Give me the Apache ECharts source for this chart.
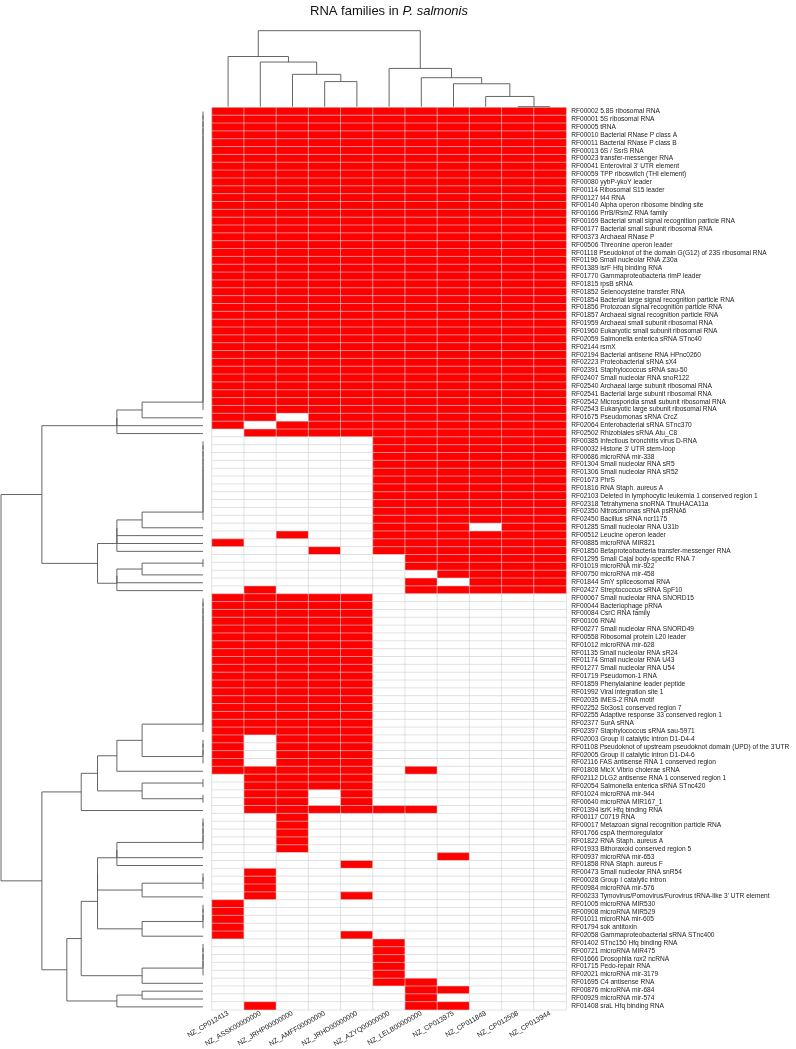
<!DOCTYPE html>
<html><head><meta charset="utf-8">
<script src="https://cdn.jsdelivr.net/npm/echarts@6/dist/echarts.min.js"></script>
<style>html,body{margin:0;padding:0;background:#fff}#c{width:796px;height:1049px}</style>
</head><body><div id="c"></div>
<script>
// ---- data ----
const columns = ['NZ_CP012413','NZ_ASSK00000000','NZ_JRHP00000000','NZ_AMFF00000000','NZ_JRHD00000000',
  'NZ_AZYQ00000000','NZ_LELB00000000','NZ_CP013975','NZ_CP011849','NZ_CP012508','NZ_CP013944'];

const rowLabels = [
'RF00002 5.8S ribosomal RNA','RF00001 5S ribosomal RNA','RF00005 tRNA','RF00010 Bacterial RNase P class A',
'RF00011 Bacterial RNase P class B','RF00013 6S / SsrS RNA','RF00023 transfer-messenger RNA','RF00041 Enteroviral 3\' UTR element',
'RF00059 TPP riboswitch (THI element)','RF00080 yybP-ykoY leader','RF00114 Ribosomal S15 leader','RF00127 t44 RNA',
'RF00140 Alpha operon ribosome binding site','RF00166 PrrB/RsmZ RNA family','RF00169 Bacterial small signal recognition particle RNA',
'RF00177 Bacterial small subunit ribosomal RNA','RF00373 Archaeal RNase P','RF00506 Threonine operon leader',
'RF01118 Pseudoknot of the domain G(G12) of 23S ribosomal RNA','RF01196 Small nucleolar RNA Z30a','RF01389 isrF Hfq binding RNA',
'RF01770 Gammaproteobacteria rimP leader','RF01815 rpsB sRNA','RF01852 Selenocysteine transfer RNA',
'RF01854 Bacterial large signal recognition particle RNA','RF01856 Protozoan signal recognition particle RNA',
'RF01857 Archaeal signal recognition particle RNA','RF01959 Archaeal small subunit ribosomal RNA',
'RF01960 Eukaryotic small subunit ribosomal RNA','RF02059 Salmonella enterica sRNA STnc40','RF02144 rsmX',
'RF02194 Bacterial antisene RNA HPnc0260','RF02223 Proteobacterial sRNA sX4','RF02391 Staphylococcus sRNA sau-50',
'RF02407 Small nucleolar RNA snoR122','RF02540 Archaeal large subunit ribosomal RNA','RF02541 Bacterial large subunit ribosomal RNA',
'RF02542 Microsporidia small subunit ribosomal RNA','RF02543 Eukaryotic large subunit ribosomal RNA',
'RF01675 Pseudomonas sRNA CrcZ','RF02064 Enterobacterial sRNA STnc370','RF02502 Rhizobiales sRNA Atu_C8',
'RF00385 Infectious bronchitis virus D-RNA','RF00032 Histone 3\' UTR stem-loop','RF00686 microRNA mir-338',
'RF01304 Small nucleolar RNA sR5','RF01306 Small nucleolar RNA sR52','RF01673 PhrS','RF01816 RNA Staph. aureus A',
'RF02103 Deleted in lymphocytic leukemia 1 conserved region 1','RF02318 Tetrahymena snoRNA TtnuHACA11a',
'RF02350 Nitrosomonas sRNA psRNA6','RF02450 Bacillus sRNA ncr1175','RF01285 Small nucleolar RNA U31b',
'RF00512 Leucine operon leader','RF00885 microRNA MIR821','RF01850 Betaproteobacteria transfer-messenger RNA',
'RF01295 Small Cajal body-specific RNA 7','RF01019 microRNA mir-922','RF00750 microRNA mir-458',
'RF01844 SmY spliceosomal RNA','RF02427 Streptococcus sRNA SpF10','RF00067 Small nucleolar RNA SNORD15',
'RF00044 Bacteriophage pRNA','RF00084 CsrC RNA family','RF00106 RNAI','RF00277 Small nucleolar RNA SNORD49',
'RF00558 Ribosomal protein L20 leader','RF01012 microRNA mir-628','RF01135 Small nucleolar RNA sR24',
'RF01174 Small nucleolar RNA U43','RF01277 Small nucleolar RNA U54','RF01719 Pseudomon-1 RNA',
'RF01859 Phenylalanine leader peptide','RF01992 Viral integration site 1','RF02035 IMES-2 RNA motif',
'RF02252 Six3os1 conserved region 7','RF02255 Adaptive response 33 conserved region 1','RF02377 SurA sRNA',
'RF02397 Staphylococcus sRNA sau-5971','RF02003 Group II catalytic intron D1-D4-4',
'RF01108 Pseudoknot of upstream pseudoknot domain (UPD) of the 3\'UTR','RF02005 Group II catalytic intron D1-D4-6',
'RF02116 FAS antisense RNA 1 conserved region','RF01808 MicX Vibrio cholerae sRNA',
'RF02112 DLG2 antisense RNA 1 conserved region 1','RF02054 Salmonella enterica sRNA STnc420',
'RF01024 microRNA mir-944','RF00640 microRNA MIR167_1','RF01394 isrK Hfq binding RNA','RF00117 C0719 RNA',
'RF00017 Metazoan signal recognition particle RNA','RF01766 cspA thermoregulator','RF01822 RNA Staph. aureus A',
'RF01933 Bithoraxoid conserved region 5','RF00937 microRNA mir-653','RF01858 RNA Staph. aureus F',
'RF00473 Small nucleolar RNA snR54','RF00028 Group I catalytic intron','RF00984 microRNA mir-576',
'RF00233 Tymovirus/Pomovirus/Furovirus tRNA-like 3\' UTR element','RF01005 microRNA MIR530','RF00908 microRNA MIR529',
'RF01011 microRNA mir-605','RF01794 sok antitoxin','RF02058 Gammaproteobacterial sRNA STnc400',
'RF01402 STnc150 Hfq binding RNA','RF00721 microRNA MIR475','RF01666 Drosophila rox2 ncRNA','RF01715 Pedo-repair RNA',
'RF02021 microRNA mir-3179','RF01695 C4 antisense RNA','RF00876 microRNA mir-684','RF00929 microRNA mir-574',
'RF01408 sraL Hfq binding RNA'];

// presence (1) / absence (0) per row, columns in the order above
const presence = [
'11111111111','11111111111','11111111111','11111111111','11111111111','11111111111','11111111111','11111111111',
'11111111111','11111111111','11111111111','11111111111','11111111111','11111111111','11111111111','11111111111',
'11111111111','11111111111','11111111111','11111111111','11111111111','11111111111','11111111111','11111111111',
'11111111111','11111111111','11111111111','11111111111','11111111111','11111111111','11111111111','11111111111',
'11111111111','11111111111','11111111111','11111111111','11111111111','11111111111','11111111111',
'11011111111','10111111111','01111111111',
'00000111111','00000111111','00000111111','00000111111','00000111111','00000111111','00000111111','00000111111',
'00000111111','00000111111','00000111111',
'00000111011','00100111111','10000111111','00010111111',
'00000011111','00000011111','00000001111','00000010111','01000011111',
'11111000000','11111000000','11111000000','11111000000','11111000000','11111000000','11111000000','11111000000',
'11111000000','11111000000','11111000000','11111000000','11111000000','11111000000','11111000000','11111000000',
'11111000000','11111000000',
'10111000000','10111000000','10111000000','10111000000',
'11111010000','01111000000','01111000000','01101000000','01101000000','01111110000',
'00100000000','00100000000','00100000000','00100000000','00100000000',
'00000001000','00001000000','01000000000','01000000000','01000000000','01001000000',
'10000000000','10000000000','10000000000','10000000000','10001000000',
'00000100000','00000100000','00000100000','00000100000','00000100000',
'00000110000','00000011000','00000010000','01000011000'];

// dendrograms: [height, child, child, ...] ; leaves are 1-based positions
const seq = (a, b) => Array.from({length: b - a + 1}, (_, i) => a + i);
const colTree = [7.42,
  [4.90, 1, [4.36, 2, [3.16, 3, [2.45, 4, 5]]]],
  [3.74, 6, [2.83, 7, [2.24, 8, [1.00, 9, [0, 10, 11]]]]]];
const rowTree = [3.317,
  [2.646,
    [1.414, [1, [0, ...seq(1, 39)], 40], 41, 42],
    [1.732,
      [1.414, [1, [0, ...seq(43, 53)], 54], 55, 56, 57],
      [1.414, [1, [0, 58, 59], 60], 61, 62]]],
  [2.646,
    [2, [1.732,
          [1.414, [1, [0, ...seq(63, 80)], [0, ...seq(81, 84)]], 85],
          [1, [0, 86, 87], [0, 88, 89]]],
        90],
    [2.236,
      [2,
        [1.732,
          [1.414, [0, ...seq(91, 95)], 96, 97],
          [1, [0, 98, 99, 100], 101],
          [1, [0, ...seq(102, 105)], 106]],
        [1, [0, ...seq(107, 111)], 112]],
      [1.414, [1, 113, 114], 115]]]];

// ---- layout helpers ----
function treeSegments(node, segs) {
  if (typeof node === 'number') return {pos: node, h: 0};
  const h = node[0];
  let cur = treeSegments(node[1], segs);
  for (let i = 2; i < node.length; i++) {
    const nxt = treeSegments(node[i], segs);
    segs.push([cur.h, cur.pos, h, cur.pos]);
    segs.push([h, cur.pos, h, nxt.pos]);
    segs.push([h, nxt.pos, nxt.h, nxt.pos]);
    cur = {pos: (cur.pos + nxt.pos) / 2, h: h};
  }
  return cur;
}
const rowSegs = []; treeSegments(rowTree, rowSegs);
const colSegs = []; treeSegments(colTree, colSegs);

const heatData = [];
presence.forEach((bits, r) => {
  for (let c = 0; c < columns.length; c++) heatData.push([c, r, +bits[c]]);
});

const LINE = '#555555';
function segRenderer(swap) {
  return function (params, api) {
    const h1 = api.value(0), p1 = api.value(1), h2 = api.value(2), p2 = api.value(3);
    const a = api.coord(swap ? [p1, h1] : [h1, p1]);
    const b = api.coord(swap ? [p2, h2] : [h2, p2]);
    return {type: 'line', shape: {x1: a[0], y1: a[1], x2: b[0], y2: b[1]},
      style: {stroke: LINE, lineWidth: 0.9}};
  };
}

const HM = {left: 212, top: 107.6, width: 354.2, height: 903.2};
const FONT = 'Liberation Sans, Arial, sans-serif';

const chart = echarts.init(document.getElementById('c'), null, {renderer: 'canvas'});
chart.setOption({
  animation: false,
  backgroundColor: '#ffffff',
  title: {
    text: '{a|RNA families in }{b|P. salmonis}',
    left: 305, top: 0,
    textStyle: {fontWeight: 'normal', rich: {
      a: {fontSize: 13, fontFamily: FONT, color: '#111', fontWeight: 'normal'},
      b: {fontSize: 13, fontFamily: FONT, color: '#111', fontWeight: 'normal', fontStyle: 'italic'}
    }}
  },
  grid: [
    {left: HM.left, top: HM.top, width: HM.width, height: HM.height},
    {left: HM.left, top: 30.7, width: HM.width, height: 76},
    {left: 1, top: HM.top, width: 202, height: HM.height}
  ],
  xAxis: [
    {gridIndex: 0, type: 'category', data: columns, position: 'bottom',
      axisLine: {show: false}, axisTick: {show: false}, splitLine: {show: false},
      axisLabel: {interval: 0, rotate: 30, fontSize: 7, fontFamily: FONT, color: '#222', margin: 3}},
    {gridIndex: 1, type: 'value', min: 0.5, max: 11.5, show: false},
    {gridIndex: 2, type: 'value', min: 0, max: 3.317, inverse: true, show: false}
  ],
  yAxis: [
    {gridIndex: 0, type: 'category', data: rowLabels, inverse: true, position: 'right',
      axisLine: {show: false}, axisTick: {show: false}, splitLine: {show: false},
      axisLabel: {interval: 0, fontSize: 6.6, fontFamily: FONT, color: '#222', margin: 5}},
    {gridIndex: 1, type: 'value', min: 0, max: 7.42, show: false},
    {gridIndex: 2, type: 'value', min: 0.5, max: 115.5, inverse: true, show: false}
  ],
  visualMap: {show: false, type: 'piecewise', seriesIndex: 0, dimension: 2,
    pieces: [{value: 0, color: '#ffffff'}, {value: 1, color: '#ff0000'}]},
  series: [
    {type: 'heatmap', xAxisIndex: 0, yAxisIndex: 0, data: heatData,
      itemStyle: {borderColor: '#d2d2d2', borderWidth: 0.6}, emphasis: {disabled: true}},
    {type: 'custom', xAxisIndex: 1, yAxisIndex: 1, data: colSegs, renderItem: segRenderer(true),
      encode: {x: [1, 3], y: [0, 2]}, silent: true},
    {type: 'custom', xAxisIndex: 2, yAxisIndex: 2, data: rowSegs, renderItem: segRenderer(false),
      encode: {x: [0, 2], y: [1, 3]}, silent: true}
  ]
});
</script></body></html>
